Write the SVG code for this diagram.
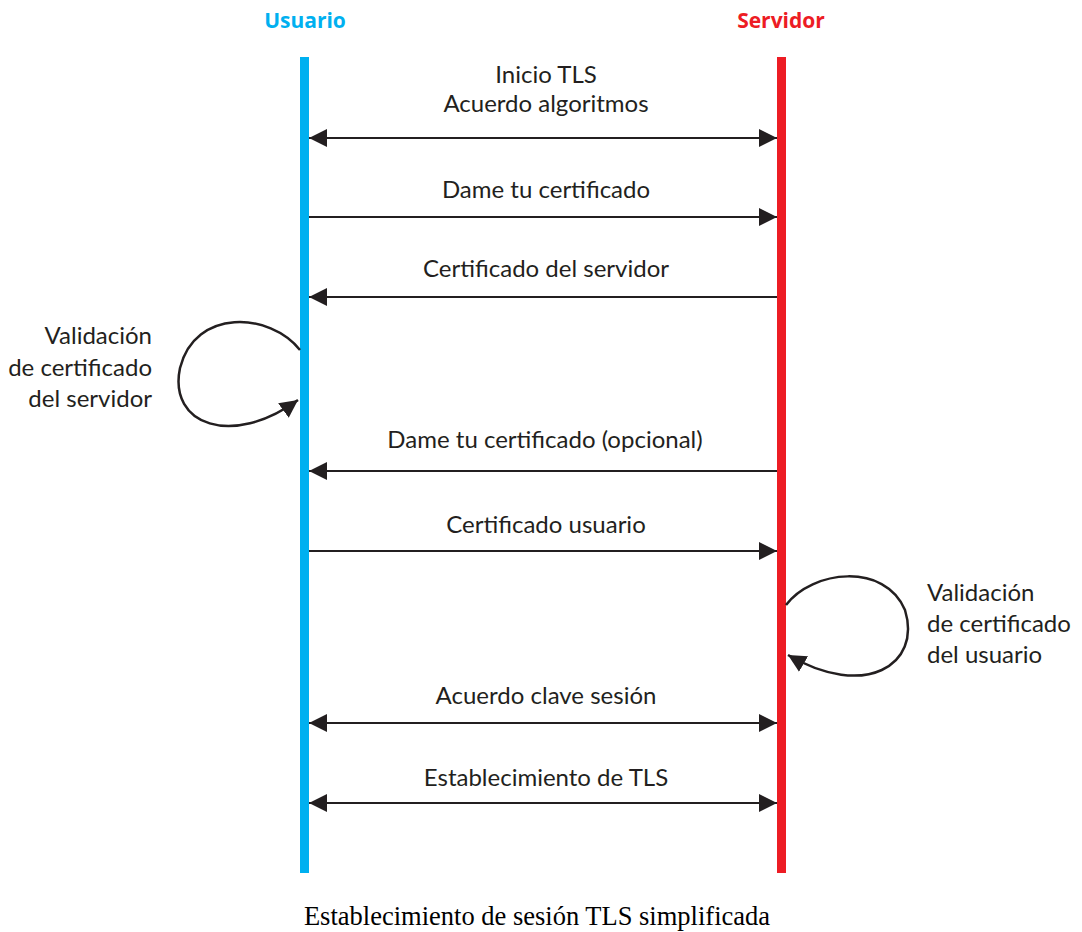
<svg xmlns="http://www.w3.org/2000/svg" width="1082" height="932" viewBox="0 0 1082 932">
<defs>
<marker id="ah" markerUnits="userSpaceOnUse" markerWidth="20" markerHeight="20" viewBox="0 0 20 20" refX="18" refY="10" orient="auto-start-reverse">
<path d="M0,1 L18,10 L0,19 Z" fill="#231f20"/>
</marker>
<style>
.lbl{font-family:"Lato","Open Sans","Liberation Sans",sans-serif;font-size:24px;fill:#231f20;text-anchor:middle}
.msg{stroke:#231f20;stroke-width:2;fill:none;marker-end:url(#ah)}
.dbl{marker-start:url(#ah)}
.loop{stroke:#231f20;stroke-width:2.5;fill:none;marker-end:url(#ah)}
</style>
</defs>
<rect width="1082" height="932" fill="#fff"/>
<g id="usuario">
<text x="305" y="28" font-family="Open Sans, Liberation Sans, sans-serif" font-size="21" font-weight="bold" fill="#00b0f0" text-anchor="middle">Usuario</text>
<rect x="300" y="57" width="9" height="816" fill="#00b0f0"/>
</g>
<g id="servidor">
<text x="781" y="28" font-family="Open Sans, Liberation Sans, sans-serif" font-size="21" font-weight="bold" fill="#ed1c24" text-anchor="middle">Servidor</text>
<rect x="777" y="57" width="9" height="816" fill="#ed1c24"/>
</g>
<g id="connectors">
<line class="msg dbl" x1="309" y1="138" x2="777" y2="138"/>
<line class="msg" x1="309" y1="217" x2="777" y2="217"/>
<line class="msg" x1="777" y1="297" x2="309" y2="297"/>
<line class="msg" x1="777" y1="471" x2="309" y2="471"/>
<line class="msg" x1="309" y1="551" x2="777" y2="551"/>
<line class="msg dbl" x1="309" y1="723" x2="777" y2="723"/>
<line class="msg dbl" x1="309" y1="803" x2="777" y2="803"/>
<path class="loop" d="M300,350 C270,312 195,308 180,368 C168,425 232,448 298,400"/>
<path class="loop" d="M786,605 C812,570 885,562 905,610 C922,665 865,700 788,655"/>
</g>
<g id="labels">
<text class="lbl" x="546" y="83">Inicio TLS</text>
<text class="lbl" x="546" y="112">Acuerdo algoritmos</text>
<text class="lbl" x="546" y="198">Dame tu certificado</text>
<text class="lbl" x="546" y="277">Certificado del servidor</text>
<text class="lbl" x="545" y="448">Dame tu certificado (opcional)</text>
<text class="lbl" x="546" y="533">Certificado usuario</text>
<text class="lbl" x="546" y="704">Acuerdo clave sesión</text>
<text class="lbl" x="546" y="786">Establecimiento de TLS</text>
</g>
<g id="validacion-servidor">
<text class="lbl" style="text-anchor:end" x="152" y="344">Validación</text>
<text class="lbl" style="text-anchor:end" x="152" y="376">de certificado</text>
<text class="lbl" style="text-anchor:end" x="152" y="407">del servidor</text>
</g>
<g id="validacion-usuario">
<text class="lbl" style="text-anchor:start" x="927" y="601">Validación</text>
<text class="lbl" style="text-anchor:start" x="927" y="632">de certificado</text>
<text class="lbl" style="text-anchor:start" x="927" y="663">del usuario</text>
</g>
<text x="537" y="925" font-family="Liberation Serif, serif" font-size="26.5" fill="#000" text-anchor="middle">Establecimiento de sesión TLS simplificada</text>
</svg>
